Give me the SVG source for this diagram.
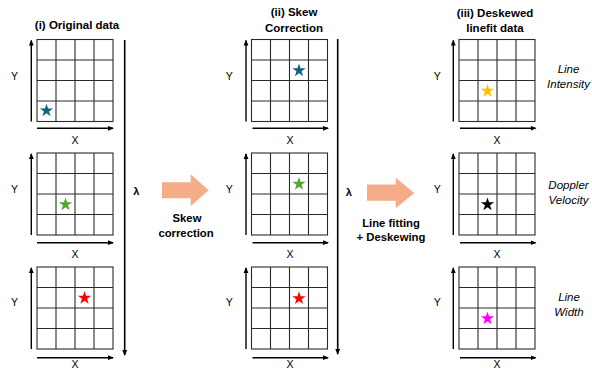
<svg xmlns="http://www.w3.org/2000/svg" xmlns:xlink="http://www.w3.org/1999/xlink" width="592" height="368" viewBox="0 0 592 368">
<style>
text{font-family:"Liberation Sans",Arial,sans-serif;fill:#000}
.title{font-size:11.5px;font-weight:bold;text-anchor:middle}
.ax{font-size:10.5px;text-anchor:middle}
.lam{font-size:11px;font-weight:bold;text-anchor:middle}
.step{font-size:11.3px;font-weight:bold;text-anchor:middle}
.prop{font-size:11.5px;font-style:italic;text-anchor:middle}
.gl{fill:#fff;stroke:#2a2a2a;stroke-width:1.1}
.axis{stroke:#000;stroke-width:1.4;fill:none}
.lamline{stroke:#000;stroke-width:1.6;fill:none}
.blk{fill:#F4AD88;stroke:none}
</style>
<defs>
<marker id="ah" markerUnits="userSpaceOnUse" markerWidth="6" markerHeight="6" viewBox="0 0 6 6" refX="5" refY="3" orient="auto">
<path d="M0,0.6 L6,3 L0,5.4 Z" fill="#000"/>
</marker>
<g id="grid">
<rect class="gl" x="0" y="0" width="76" height="82"/>
<path class="gl" d="M19,0V82M38,0V82M57,0V82M0,20.5H76M0,41H76M0,61.5H76"/>
</g>
<path id="star" d="M0,-7 L1.572,-2.163 L6.657,-2.163 L2.543,0.826 L4.114,5.663 L0,2.674 L-4.114,5.663 L-2.543,0.826 L-6.657,-2.163 L-1.572,-2.163 Z"/>
</defs>
<rect width="592" height="368" fill="#fff"/>

<g id="titles">
<text class="title" x="77" y="29">(i) Original data</text>
<text class="title" x="294" y="16">(ii) Skew</text>
<text class="title" x="294" y="31.5">Correction</text>
<text class="title" x="495" y="17">(iii) Deskewed</text>
<text class="title" x="495" y="32">linefit data</text>
</g>

<g id="p1a">
<use xlink:href="#grid" x="37" y="39.5"/>
<line class="axis" x1="31.3" y1="121.5" x2="31.3" y2="40.5" marker-end="url(#ah)"/>
<line class="axis" x1="37" y1="128.3" x2="113" y2="128.3" marker-end="url(#ah)"/>
<text class="ax" x="14.5" y="80">Y</text>
<text class="ax" x="75" y="144">X</text>
<use xlink:href="#star" x="46.5" y="110.7" fill="#156082"/>
</g>
<g id="p1b">
<use xlink:href="#grid" x="37" y="153"/>
<line class="axis" x1="31.3" y1="235" x2="31.3" y2="154" marker-end="url(#ah)"/>
<line class="axis" x1="37" y1="242.7" x2="113" y2="242.7" marker-end="url(#ah)"/>
<text class="ax" x="14.5" y="193.3">Y</text>
<text class="ax" x="75" y="258">X</text>
<use xlink:href="#star" x="65.5" y="204.5" fill="#4EA72E"/>
</g>
<g id="p1c">
<use xlink:href="#grid" x="37" y="267"/>
<line class="axis" x1="31.3" y1="349" x2="31.3" y2="268" marker-end="url(#ah)"/>
<line class="axis" x1="37" y1="357.7" x2="113" y2="357.7" marker-end="url(#ah)"/>
<text class="ax" x="14.5" y="305.7">Y</text>
<text class="ax" x="75" y="367.5">X</text>
<use xlink:href="#star" x="84.5" y="298" fill="#FF0000"/>
</g>

<g id="p2a">
<use xlink:href="#grid" x="251.5" y="39.5"/>
<line class="axis" x1="246" y1="121.5" x2="246" y2="40.5" marker-end="url(#ah)"/>
<line class="axis" x1="252.5" y1="128.3" x2="328" y2="128.3" marker-end="url(#ah)"/>
<text class="ax" x="229.3" y="80">Y</text>
<text class="ax" x="290" y="144">X</text>
<use xlink:href="#star" x="299" y="70.5" fill="#156082"/>
</g>
<g id="p2b">
<use xlink:href="#grid" x="251.5" y="153"/>
<line class="axis" x1="246" y1="235" x2="246" y2="154" marker-end="url(#ah)"/>
<line class="axis" x1="252.5" y1="242.7" x2="328" y2="242.7" marker-end="url(#ah)"/>
<text class="ax" x="229.3" y="193.3">Y</text>
<text class="ax" x="290" y="258">X</text>
<use xlink:href="#star" x="299" y="184" fill="#4EA72E"/>
</g>
<g id="p2c">
<use xlink:href="#grid" x="251.5" y="267"/>
<line class="axis" x1="246" y1="349" x2="246" y2="268" marker-end="url(#ah)"/>
<line class="axis" x1="252.5" y1="357.7" x2="328" y2="357.7" marker-end="url(#ah)"/>
<text class="ax" x="229.3" y="305.7">Y</text>
<text class="ax" x="290" y="367.5">X</text>
<use xlink:href="#star" x="299" y="298.3" fill="#FF0000"/>
</g>

<g id="p3a">
<use xlink:href="#grid" x="459" y="39.5"/>
<line class="axis" x1="453.3" y1="121.5" x2="453.3" y2="40.5" marker-end="url(#ah)"/>
<line class="axis" x1="460" y1="128.3" x2="535.5" y2="128.3" marker-end="url(#ah)"/>
<text class="ax" x="437.3" y="80">Y</text>
<text class="ax" x="497" y="144">X</text>
<use xlink:href="#star" x="487.5" y="91" fill="#FFC000"/>
<text class="prop" x="568.5" y="73.3">Line</text>
<text class="prop" x="568.5" y="88.3">Intensity</text>
</g>
<g id="p3b">
<use xlink:href="#grid" x="459" y="153"/>
<line class="axis" x1="453.3" y1="235" x2="453.3" y2="154" marker-end="url(#ah)"/>
<line class="axis" x1="460" y1="242.7" x2="535.5" y2="242.7" marker-end="url(#ah)"/>
<text class="ax" x="437.3" y="193.3">Y</text>
<text class="ax" x="497" y="258">X</text>
<use xlink:href="#star" x="487.5" y="204.5" fill="#000"/>
<text class="prop" x="568.5" y="189.3">Doppler</text>
<text class="prop" x="568.5" y="204">Velocity</text>
</g>
<g id="p3c">
<use xlink:href="#grid" x="459" y="267"/>
<line class="axis" x1="453.3" y1="349" x2="453.3" y2="268" marker-end="url(#ah)"/>
<line class="axis" x1="460" y1="357.7" x2="535.5" y2="357.7" marker-end="url(#ah)"/>
<text class="ax" x="437.3" y="305.7">Y</text>
<text class="ax" x="497" y="367.5">X</text>
<use xlink:href="#star" x="487.5" y="318.5" fill="#FF00FF"/>
<text class="prop" x="569" y="300.7">Line</text>
<text class="prop" x="569" y="316">Width</text>
</g>

<g id="connectors">
<line class="lamline" x1="124.7" y1="40" x2="124.7" y2="355" marker-end="url(#ah)"/>
<text class="lam" x="136.3" y="195">λ</text>
<line class="lamline" x1="337.7" y1="39" x2="337.7" y2="354" marker-end="url(#ah)"/>
<text class="lam" x="348.7" y="195.7">λ</text>
<polygon class="blk" points="162,182.3 190.7,182.3 190.7,174.3 208.7,190.2 190.7,205.9 190.7,198.3 162,198.3"/>
<text class="step" x="187" y="221.7">Skew</text>
<text class="step" x="186" y="236.7">correction</text>
<polygon class="blk" points="367,184.5 395.7,184.5 395.7,177.7 414.3,193 395.7,208.3 395.7,200.7 367,200.7"/>
<text class="step" x="391" y="226.7">Line fitting</text>
<text class="step" x="391" y="240.5">+ Deskewing</text>
</g>
</svg>
